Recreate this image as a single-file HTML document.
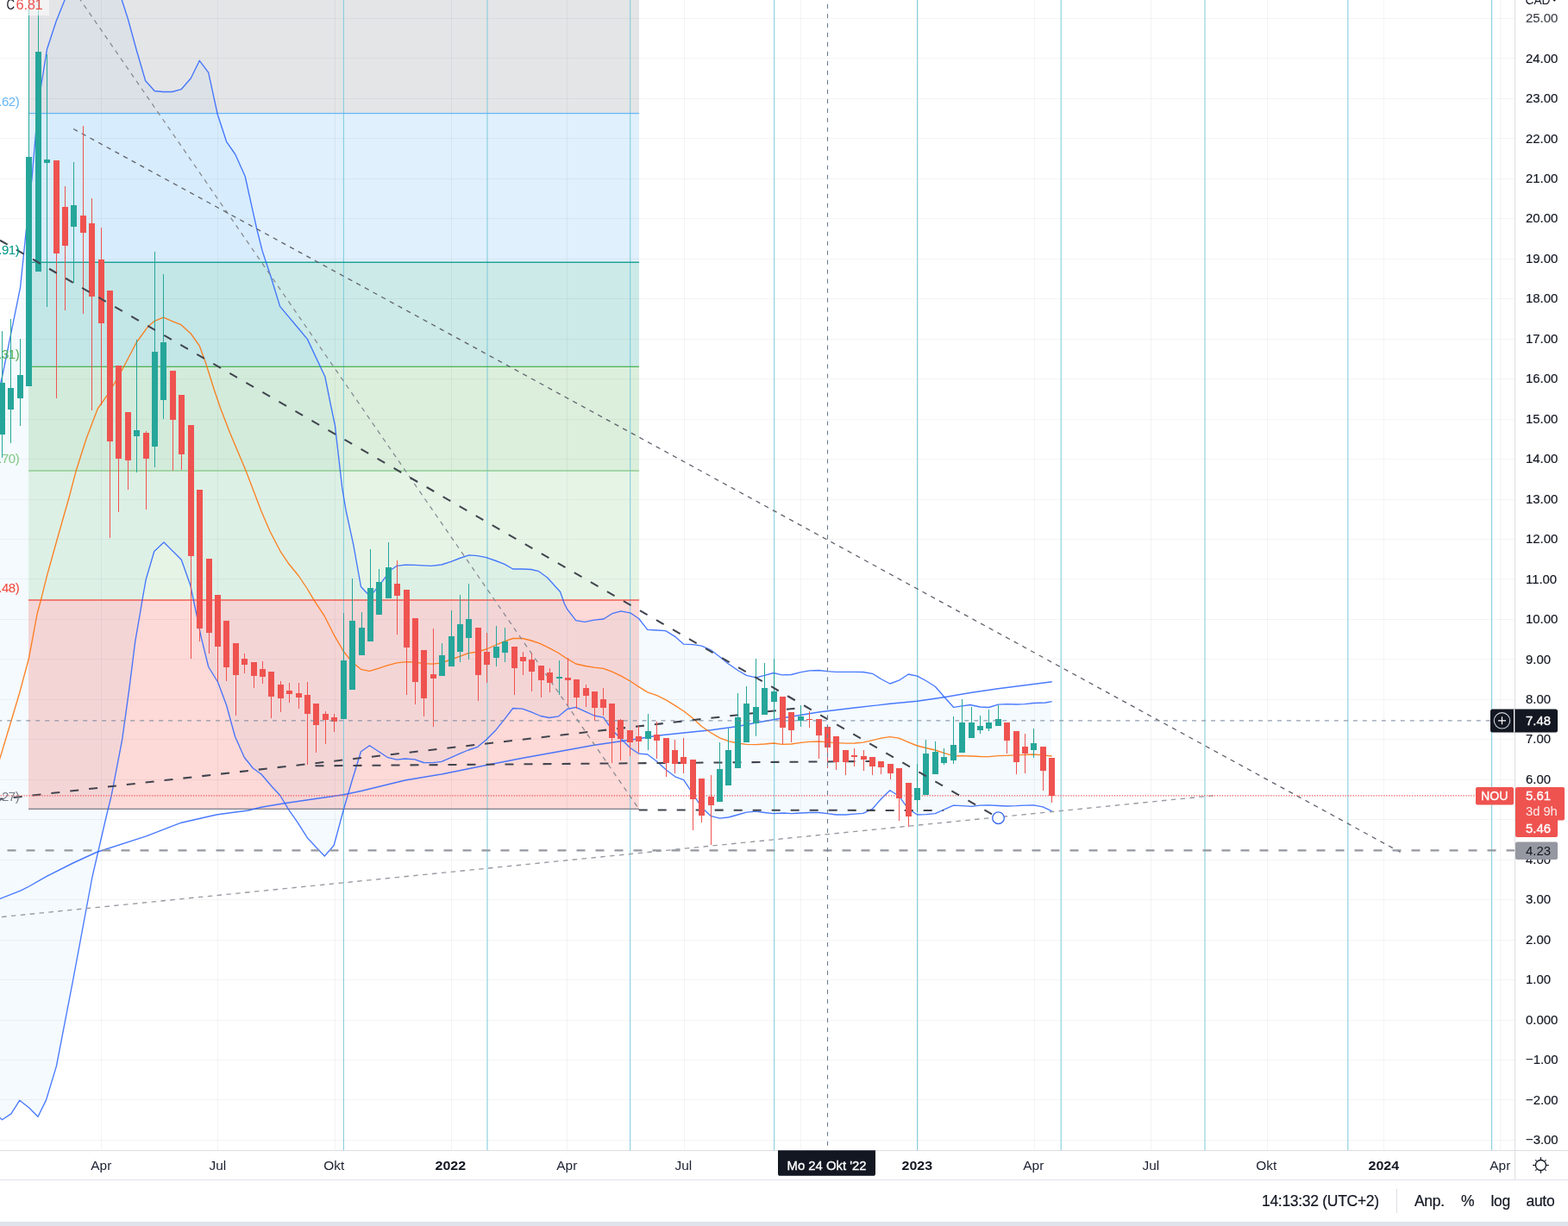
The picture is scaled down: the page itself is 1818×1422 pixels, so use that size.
<!DOCTYPE html>
<html lang="de">
<head>
<meta charset="utf-8">
<title>NOU Chart</title>
<style>
html,body{margin:0;padding:0;background:#fff;}
body{width:1818px;height:1422px;overflow:hidden;position:relative;font-family:"Liberation Sans", "DejaVu Sans", Arial, sans-serif;}
svg{position:absolute;left:0;top:0;display:block;}
text{font-family:"Liberation Sans", "DejaVu Sans", Arial, sans-serif;}
.ax{font-size:15px;fill:#131722;letter-spacing:-0.25px;}
.tm{font-size:15px;fill:#131722;text-anchor:middle;letter-spacing:-0.2px;}
.fb{font-size:15px;text-anchor:end;letter-spacing:-0.4px;}
.tb{font-size:17.5px;fill:#131722;letter-spacing:-0.3px;stroke:#131722;stroke-width:0.2px;}
.wb{fill:#fff;stroke:#fff;stroke-width:0.35px;paint-order:stroke;}
</style>
</head>
<body>
<svg width="1818" height="1422" viewBox="0 0 1818 1422">
<defs>
<clipPath id="cp"><rect x="0" y="0" width="1756" height="1334"/></clipPath>
</defs>
<rect x="0" y="0" width="1818" height="1422" fill="#ffffff"/>
<g clip-path="url(#cp)">

<polygon points="-8.0,480.0 2.5,437.0 12.5,387.8 23.5,333.7 30.0,270.3 33.5,238.0 37.0,206.7 44.5,119.0 54.5,57.0 65.0,25.0 75.0,0.0 85.0,-30.0 130.0,-30.0 141.3,0.0 148.3,21.7 158.3,58.3 168.7,93.7 179.2,105.5 189.2,106.5 199.5,106.5 210.0,103.7 221.3,90.8 231.3,70.3 241.7,84.2 252.2,132.5 262.6,164.3 272.8,179.0 284.2,204.5 297.5,264.5 304.1,290.9 314.0,320.7 324.6,355.4 345.5,380.2 356.4,393.4 376.9,437.0 383.5,470.0 388.4,493.1 396.7,565.9 401.3,593.0 409.7,631.3 418.5,680.5 426.3,688.8 433.0,687.2 443.0,674.7 453.0,661.3 460.2,656.3 469.7,655.2 481.0,655.3 499.7,656.3 512.0,655.0 523.0,651.3 533.0,647.5 543.8,643.8 553.8,644.7 563.8,646.7 575.0,650.5 585.0,654.3 594.7,660.0 606.0,660.0 616.0,660.5 624.8,662.7 634.7,670.0 649.6,686.5 654.3,700.0 657.7,706.7 667.7,719.7 678.0,721.3 688.8,719.2 699.7,718.0 709.7,711.7 719.8,708.8 730.7,710.8 740.7,717.5 750.7,730.3 761.7,731.0 771.8,731.7 782.7,738.3 792.7,747.2 803.5,747.7 813.5,749.2 824.5,754.2 834.5,761.7 844.5,770.0 855.5,777.5 865.5,783.3 876.5,785.8 886.5,783.3 896.8,780.5 906.8,782.8 917.3,782.5 928.5,779.7 938.5,777.8 949.5,777.5 959.5,778.7 969.5,779.3 980.7,779.3 990.7,779.3 1000.7,779.5 1011.5,781.3 1021.5,787.5 1031.8,793.0 1042.3,789.2 1053.2,782.0 1063.5,784.2 1073.5,789.5 1084.3,796.3 1094.3,807.8 1105.5,820.3 1115.5,818.8 1124.8,817.5 1136.5,820.0 1146.5,820.5 1157.3,817.2 1167.3,816.7 1178.2,817.0 1188.2,816.7 1198.5,815.5 1212.0,815.0 1218.8,813.7 1218.8,940.8 1209.0,935.8 1198.5,933.8 1188.2,934.2 1178.2,934.7 1167.3,935.0 1157.3,934.5 1146.5,933.8 1136.5,934.2 1126.5,935.3 1115.5,934.7 1105.5,934.2 1094.3,939.2 1084.3,943.7 1073.5,944.7 1063.5,945.0 1053.2,938.3 1042.3,923.3 1031.8,916.7 1021.5,926.7 1011.5,938.3 1000.7,943.3 990.7,944.2 980.7,945.0 969.5,945.0 959.5,943.7 949.5,942.5 938.5,942.5 928.5,943.0 917.3,943.7 909.0,943.0 896.8,943.7 886.5,942.5 876.5,941.2 865.5,942.2 855.5,945.0 844.5,948.0 834.5,949.2 824.5,946.7 813.5,936.5 803.5,920.8 792.7,904.7 782.7,900.8 772.7,893.3 761.7,883.3 750.7,875.0 740.7,874.2 730.7,867.5 719.8,856.7 709.7,846.7 699.7,832.2 688.8,830.0 678.8,825.3 667.7,820.3 657.7,822.5 647.7,830.8 636.8,832.5 626.8,830.5 616.0,825.8 606.0,822.2 594.7,821.5 585.0,834.2 575.0,846.7 563.8,858.0 553.8,866.3 543.0,870.0 533.0,874.2 523.0,878.7 512.0,883.3 502.0,884.7 491.0,884.5 481.0,880.8 469.7,880.0 460.2,881.2 449.7,878.7 439.2,871.7 428.5,864.7 418.5,871.7 408.3,905.0 398.3,939.2 387.2,980.5 376.3,993.0 366.3,982.5 356.3,971.7 344.7,953.3 334.7,939.2 324.7,922.5 314.7,911.7 303.0,898.0 293.3,891.0 283.3,878.5 272.5,854.3 262.5,817.7 252.5,791.0 241.7,773.5 233.3,739.3 227.5,711.0 220.8,679.0 210.3,649.3 190.0,629.0 178.8,639.5 169.2,672.3 165.0,695.7 162.5,711.0 156.7,744.3 150.0,797.7 141.7,857.7 129.2,922.7 123.0,948.0 106.8,1018.0 84.7,1136.6 65.4,1236.6 53.6,1275.6 44.0,1295.3 33.9,1285.0 22.7,1276.3 12.9,1291.9 2.5,1298.8 -8.0,1290.0" fill="rgb(33,150,243)" fill-opacity="0.05"/>
<rect x="33" y="-88" width="708" height="219.5" fill="#787b86" fill-opacity="0.2"/>
<rect x="33" y="131.5" width="708" height="172.7" fill="#64b5f6" fill-opacity="0.2"/>
<rect x="33" y="304.2" width="708" height="121.10000000000002" fill="#009688" fill-opacity="0.2"/>
<rect x="33" y="425.3" width="708" height="120.69999999999999" fill="#4caf50" fill-opacity="0.2"/>
<rect x="33" y="546.0" width="708" height="150.0" fill="#81c784" fill-opacity="0.2"/>
<rect x="33" y="696.0" width="708" height="242.29999999999995" fill="#f44336" fill-opacity="0.2"/>
<g fill="#2a2e39" fill-opacity="0.052" shape-rendering="crispEdges">
<rect x="0" y="1322" width="1756" height="1"/>
<rect x="0" y="1275" width="1756" height="1"/>
<rect x="0" y="1229" width="1756" height="1"/>
<rect x="0" y="1183" width="1756" height="1"/>
<rect x="0" y="1136" width="1756" height="1"/>
<rect x="0" y="1090" width="1756" height="1"/>
<rect x="0" y="1043" width="1756" height="1"/>
<rect x="0" y="997" width="1756" height="1"/>
<rect x="0" y="950" width="1756" height="1"/>
<rect x="0" y="904" width="1756" height="1"/>
<rect x="0" y="857" width="1756" height="1"/>
<rect x="0" y="811" width="1756" height="1"/>
<rect x="0" y="764" width="1756" height="1"/>
<rect x="0" y="718" width="1756" height="1"/>
<rect x="0" y="671" width="1756" height="1"/>
<rect x="0" y="625" width="1756" height="1"/>
<rect x="0" y="579" width="1756" height="1"/>
<rect x="0" y="532" width="1756" height="1"/>
<rect x="0" y="486" width="1756" height="1"/>
<rect x="0" y="439" width="1756" height="1"/>
<rect x="0" y="393" width="1756" height="1"/>
<rect x="0" y="346" width="1756" height="1"/>
<rect x="0" y="300" width="1756" height="1"/>
<rect x="0" y="253" width="1756" height="1"/>
<rect x="0" y="207" width="1756" height="1"/>
<rect x="0" y="160" width="1756" height="1"/>
<rect x="0" y="114" width="1756" height="1"/>
<rect x="0" y="67" width="1756" height="1"/>
<rect x="0" y="21" width="1756" height="1"/>
<rect x="117" y="0" width="1" height="1334"/>
<rect x="252" y="0" width="1" height="1334"/>
<rect x="388" y="0" width="1" height="1334"/>
<rect x="523" y="0" width="1" height="1334"/>
<rect x="657" y="0" width="1" height="1334"/>
<rect x="793" y="0" width="1" height="1334"/>
<rect x="928" y="0" width="1" height="1334"/>
<rect x="1064" y="0" width="1" height="1334"/>
<rect x="1199" y="0" width="1" height="1334"/>
<rect x="1334" y="0" width="1" height="1334"/>
<rect x="1469" y="0" width="1" height="1334"/>
<rect x="1604" y="0" width="1" height="1334"/>
<rect x="1739" y="0" width="1" height="1334"/>
</g>
<g stroke="#80ccdb" stroke-width="1.05">
<line x1="398.4" y1="0" x2="398.4" y2="1334"/>
<line x1="565.0" y1="0" x2="565.0" y2="1334"/>
<line x1="730.7" y1="0" x2="730.7" y2="1334"/>
<line x1="897.7" y1="0" x2="897.7" y2="1334"/>
<line x1="1063.6" y1="0" x2="1063.6" y2="1334"/>
<line x1="1230.2" y1="0" x2="1230.2" y2="1334"/>
<line x1="1397.0" y1="0" x2="1397.0" y2="1334"/>
<line x1="1562.8" y1="0" x2="1562.8" y2="1334"/>
<line x1="1729.6" y1="0" x2="1729.6" y2="1334"/>
</g>
<rect x="33" y="130.88" width="708" height="1.25" fill="#64b5f6"/>
<rect x="33" y="303.58" width="708" height="1.25" fill="#009688"/>
<rect x="33" y="424.68" width="708" height="1.25" fill="#4caf50"/>
<rect x="33" y="545.38" width="708" height="1.25" fill="#81c784"/>
<rect x="33" y="695.38" width="708" height="1.25" fill="#f44336"/>
<rect x="33" y="937.68" width="708" height="1.25" fill="#787b86"/>
<polyline points="-8.0,1045.0 0.0,1042.4 23.7,1033.2 33.9,1028.0 54.2,1016.3 84.7,1001.0 111.9,988.5 169.5,969.8 210.2,954.2 250.8,945.0 288.0,940.0 303.0,936.3 329.7,931.7 398.3,921.7 418.5,917.5 469.7,905.0 512.0,898.0 563.8,887.5 606.0,879.2 647.7,871.7 688.8,864.2 719.8,859.7 740.7,856.7 761.7,853.3 792.7,850.0 824.5,846.7 855.5,842.5 876.5,838.3 896.8,834.7 909.0,832.5 950.7,825.8 992.3,820.8 1031.8,816.3 1063.5,813.3 1094.3,808.7 1126.5,803.3 1157.3,798.7 1212.0,791.7 1219.7,790.8" fill="none" stroke="#2962ff" stroke-opacity="0.85" stroke-width="1.4" stroke-linejoin="round"/>
<polyline points="-8.0,480.0 2.5,437.0 12.5,387.8 23.5,333.7 30.0,270.3 33.5,238.0 37.0,206.7 44.5,119.0 54.5,57.0 65.0,25.0 75.0,0.0 85.0,-30.0 130.0,-30.0 141.3,0.0 148.3,21.7 158.3,58.3 168.7,93.7 179.2,105.5 189.2,106.5 199.5,106.5 210.0,103.7 221.3,90.8 231.3,70.3 241.7,84.2 252.2,132.5 262.6,164.3 272.8,179.0 284.2,204.5 297.5,264.5 304.1,290.9 314.0,320.7 324.6,355.4 345.5,380.2 356.4,393.4 376.9,437.0 383.5,470.0 388.4,493.1 396.7,565.9 401.3,593.0 409.7,631.3 418.5,680.5 426.3,688.8 433.0,687.2 443.0,674.7 453.0,661.3 460.2,656.3 469.7,655.2 481.0,655.3 499.7,656.3 512.0,655.0 523.0,651.3 533.0,647.5 543.8,643.8 553.8,644.7 563.8,646.7 575.0,650.5 585.0,654.3 594.7,660.0 606.0,660.0 616.0,660.5 624.8,662.7 634.7,670.0 649.6,686.5 654.3,700.0 657.7,706.7 667.7,719.7 678.0,721.3 688.8,719.2 699.7,718.0 709.7,711.7 719.8,708.8 730.7,710.8 740.7,717.5 750.7,730.3 761.7,731.0 771.8,731.7 782.7,738.3 792.7,747.2 803.5,747.7 813.5,749.2 824.5,754.2 834.5,761.7 844.5,770.0 855.5,777.5 865.5,783.3 876.5,785.8 886.5,783.3 896.8,780.5 906.8,782.8 917.3,782.5 928.5,779.7 938.5,777.8 949.5,777.5 959.5,778.7 969.5,779.3 980.7,779.3 990.7,779.3 1000.7,779.5 1011.5,781.3 1021.5,787.5 1031.8,793.0 1042.3,789.2 1053.2,782.0 1063.5,784.2 1073.5,789.5 1084.3,796.3 1094.3,807.8 1105.5,820.3 1115.5,818.8 1124.8,817.5 1136.5,820.0 1146.5,820.5 1157.3,817.2 1167.3,816.7 1178.2,817.0 1188.2,816.7 1198.5,815.5 1212.0,815.0 1219.7,813.7" fill="none" stroke="#2962ff" stroke-opacity="0.85" stroke-width="1.35" stroke-linejoin="round"/>
<polyline points="-8.0,1290.0 2.5,1298.8 12.9,1291.9 22.7,1276.3 33.9,1285.0 44.0,1295.3 53.6,1275.6 65.4,1236.6 84.7,1136.6 106.8,1018.0 123.0,948.0 129.2,922.7 141.7,857.7 150.0,797.7 156.7,744.3 162.5,711.0 165.0,695.7 169.2,672.3 178.8,639.5 190.0,629.0 210.3,649.3 220.8,679.0 227.5,711.0 233.3,739.3 241.7,773.5 252.5,791.0 262.5,817.7 272.5,854.3 283.3,878.5 293.3,891.0 303.0,898.0 314.7,911.7 324.7,922.5 334.7,939.2 344.7,953.3 356.3,971.7 366.3,982.5 376.3,993.0 387.2,980.5 398.3,939.2 408.3,905.0 418.5,871.7 428.5,864.7 439.2,871.7 449.7,878.7 460.2,881.2 469.7,880.0 481.0,880.8 491.0,884.5 502.0,884.7 512.0,883.3 523.0,878.7 533.0,874.2 543.0,870.0 553.8,866.3 563.8,858.0 575.0,846.7 585.0,834.2 594.7,821.5 606.0,822.2 616.0,825.8 626.8,830.5 636.8,832.5 647.7,830.8 657.7,822.5 667.7,820.3 678.8,825.3 688.8,830.0 699.7,832.2 709.7,846.7 719.8,856.7 730.7,867.5 740.7,874.2 750.7,875.0 761.7,883.3 772.7,893.3 782.7,900.8 792.7,904.7 803.5,920.8 813.5,936.5 824.5,946.7 834.5,949.2 844.5,948.0 855.5,945.0 865.5,942.2 876.5,941.2 886.5,942.5 896.8,943.7 909.0,943.0 917.3,943.7 928.5,943.0 938.5,942.5 949.5,942.5 959.5,943.7 969.5,945.0 980.7,945.0 990.7,944.2 1000.7,943.3 1011.5,938.3 1021.5,926.7 1031.8,916.7 1042.3,923.3 1053.2,938.3 1063.5,945.0 1073.5,944.7 1084.3,943.7 1094.3,939.2 1105.5,934.2 1115.5,934.7 1126.5,935.3 1136.5,934.2 1146.5,933.8 1157.3,934.5 1167.3,935.0 1178.2,934.7 1188.2,934.2 1198.5,933.8 1209.0,935.8 1219.7,940.8" fill="none" stroke="#2962ff" stroke-opacity="0.85" stroke-width="1.35" stroke-linejoin="round"/>
<polyline points="-8.0,905.0 0.0,879.3 12.5,837.7 22.5,804.3 33.3,764.3 43.3,711.0 47.5,695.7 55.0,665.7 66.7,624.0 80.0,577.3 88.3,545.7 100.0,509.0 113.3,474.0 124.2,458.7 133.3,443.7 141.7,428.7 158.3,397.0 171.7,378.7 179.2,372.3 189.5,368.2 200.3,372.8 210.0,376.7 221.3,387.0 231.3,401.2 238.3,420.3 248.3,452.0 255.8,474.0 266.7,502.3 285.0,545.7 303.0,593.0 313.0,616.3 324.7,638.8 334.7,653.8 346.3,668.0 356.3,683.0 364.7,697.2 376.3,714.7 387.2,736.3 398.3,755.5 408.3,768.0 418.5,776.3 428.5,778.3 439.2,775.2 449.7,771.7 460.2,768.8 471.0,767.7 481.0,768.0 491.0,769.7 502.0,770.2 512.0,768.8 523.0,765.0 533.0,761.3 543.0,757.7 553.8,756.0 563.8,753.0 575.0,748.0 585.0,743.8 594.7,740.5 606.0,740.5 616.0,743.0 626.0,746.3 636.8,751.7 647.7,757.5 657.7,764.2 667.7,770.0 678.8,772.5 688.8,774.2 699.7,775.3 709.7,779.2 719.8,783.8 730.7,790.0 740.7,796.7 750.7,802.8 761.7,806.7 772.7,812.2 782.7,818.3 792.7,824.7 803.5,833.3 813.5,842.5 824.5,850.0 834.5,855.8 844.5,859.7 855.5,862.0 865.5,863.3 876.5,863.7 886.5,863.0 896.8,862.0 906.8,863.3 917.3,863.0 928.5,861.3 938.5,860.3 949.5,860.0 959.5,860.8 969.5,861.7 980.7,862.2 990.7,862.0 1000.7,861.2 1011.5,858.7 1021.5,856.2 1031.8,854.7 1042.3,856.2 1053.2,860.8 1063.5,865.0 1073.5,867.5 1084.3,870.0 1094.3,873.3 1105.5,876.7 1115.5,876.7 1126.5,877.0 1136.5,877.5 1146.5,877.7 1157.3,876.7 1167.3,876.3 1178.2,875.8 1188.2,875.3 1198.5,875.0 1209.0,875.8 1219.7,877.0" fill="none" stroke="#ff6d00" stroke-opacity="0.85" stroke-width="1.35" stroke-linejoin="round"/>
<line x1="32.75" y1="-87.7" x2="740.55" y2="938" stroke="#858891" stroke-width="1.25" stroke-dasharray="5.35 5.354" stroke-dashoffset="-6.6"/>
<line x1="85.1" y1="149.5" x2="1623.6" y2="988.4" stroke="#60636d" stroke-width="1.3" stroke-dasharray="5.4 5.593"/>
<line x1="-8.75" y1="1064.6" x2="1406.7" y2="922.8" stroke="#989aa3" stroke-width="1.35" stroke-dasharray="5.5 5.4"/>
<line x1="8.5" y1="986.3" x2="1757" y2="986.3" stroke="#9598a1" stroke-width="2.2" stroke-dasharray="10 12"/>
<line x1="-6.2" y1="927.55" x2="921.5" y2="821.7" stroke="#41444e" stroke-width="2.05" stroke-dasharray="10 12"/>
<line x1="365.5" y1="888.3" x2="1009" y2="883.0" stroke="#41444e" stroke-width="2.05" stroke-dasharray="10 12"/>
<line x1="740.7" y1="939.5" x2="1094" y2="940" stroke="#41444e" stroke-width="2.05" stroke-dasharray="10 12"/>
<line x1="0.7" y1="922.8" x2="1757" y2="922.8" stroke="#ef5350" stroke-width="1.25" stroke-dasharray="1.3 1.675"/>
<g shape-rendering="crispEdges">
<rect x="2" y="384" width="1" height="147" fill="#26a69a"/>
<rect x="-1" y="444" width="7" height="60" fill="#26a69a"/>
<rect x="12" y="370" width="1" height="144" fill="#26a69a"/>
<rect x="9" y="450" width="7" height="25" fill="#26a69a"/>
<rect x="23" y="393" width="1" height="101" fill="#26a69a"/>
<rect x="20" y="435" width="7" height="27" fill="#26a69a"/>
<rect x="33" y="-5" width="1" height="453" fill="#26a69a"/>
<rect x="30" y="182" width="7" height="266" fill="#26a69a"/>
<rect x="44" y="-5" width="1" height="320" fill="#26a69a"/>
<rect x="41" y="60" width="7" height="255" fill="#26a69a"/>
<rect x="54" y="63" width="1" height="293" fill="#26a69a"/>
<rect x="51" y="185" width="7" height="4" fill="#26a69a"/>
<rect x="65" y="186" width="1" height="276" fill="#ef5350"/>
<rect x="62" y="186" width="7" height="108" fill="#ef5350"/>
<rect x="75" y="216" width="1" height="144" fill="#ef5350"/>
<rect x="72" y="240" width="7" height="45" fill="#ef5350"/>
<rect x="85" y="188" width="1" height="140" fill="#26a69a"/>
<rect x="82" y="238" width="7" height="25" fill="#26a69a"/>
<rect x="96" y="146" width="1" height="218" fill="#ef5350"/>
<rect x="93" y="250" width="7" height="20" fill="#ef5350"/>
<rect x="106" y="230" width="1" height="246" fill="#ef5350"/>
<rect x="103" y="259" width="7" height="85" fill="#ef5350"/>
<rect x="117" y="264" width="1" height="206" fill="#ef5350"/>
<rect x="114" y="301" width="7" height="74" fill="#ef5350"/>
<rect x="127" y="337" width="1" height="287" fill="#ef5350"/>
<rect x="124" y="337" width="7" height="175" fill="#ef5350"/>
<rect x="137" y="424" width="1" height="170" fill="#ef5350"/>
<rect x="134" y="424" width="7" height="108" fill="#ef5350"/>
<rect x="148" y="478" width="1" height="90" fill="#ef5350"/>
<rect x="145" y="478" width="7" height="56" fill="#ef5350"/>
<rect x="158" y="394" width="1" height="154" fill="#26a69a"/>
<rect x="155" y="499" width="7" height="7" fill="#26a69a"/>
<rect x="169" y="500" width="1" height="91" fill="#ef5350"/>
<rect x="166" y="502" width="7" height="30" fill="#ef5350"/>
<rect x="179" y="292" width="1" height="250" fill="#26a69a"/>
<rect x="176" y="408" width="7" height="110" fill="#26a69a"/>
<rect x="189" y="318" width="1" height="168" fill="#26a69a"/>
<rect x="186" y="397" width="7" height="67" fill="#26a69a"/>
<rect x="200" y="430" width="1" height="116" fill="#ef5350"/>
<rect x="197" y="430" width="7" height="57" fill="#ef5350"/>
<rect x="210" y="458" width="1" height="87" fill="#ef5350"/>
<rect x="207" y="458" width="7" height="69" fill="#ef5350"/>
<rect x="221" y="493" width="1" height="271" fill="#ef5350"/>
<rect x="218" y="493" width="7" height="152" fill="#ef5350"/>
<rect x="231" y="568" width="1" height="176" fill="#ef5350"/>
<rect x="228" y="568" width="7" height="161" fill="#ef5350"/>
<rect x="242" y="648" width="1" height="110" fill="#ef5350"/>
<rect x="239" y="648" width="7" height="86" fill="#ef5350"/>
<rect x="252" y="690" width="1" height="100" fill="#ef5350"/>
<rect x="249" y="690" width="7" height="60" fill="#ef5350"/>
<rect x="262" y="720" width="1" height="70" fill="#ef5350"/>
<rect x="259" y="720" width="7" height="54" fill="#ef5350"/>
<rect x="273" y="746" width="1" height="84" fill="#ef5350"/>
<rect x="270" y="746" width="7" height="37" fill="#ef5350"/>
<rect x="283" y="758" width="1" height="23" fill="#ef5350"/>
<rect x="280" y="764" width="7" height="7" fill="#ef5350"/>
<rect x="294" y="768" width="1" height="30" fill="#ef5350"/>
<rect x="291" y="768" width="7" height="16" fill="#ef5350"/>
<rect x="304" y="767" width="1" height="26" fill="#ef5350"/>
<rect x="301" y="776" width="7" height="9" fill="#ef5350"/>
<rect x="314" y="779" width="1" height="54" fill="#ef5350"/>
<rect x="311" y="779" width="7" height="29" fill="#ef5350"/>
<rect x="325" y="790" width="1" height="36" fill="#ef5350"/>
<rect x="322" y="794" width="7" height="16" fill="#ef5350"/>
<rect x="335" y="792" width="1" height="23" fill="#ef5350"/>
<rect x="332" y="801" width="7" height="4" fill="#ef5350"/>
<rect x="346" y="792" width="1" height="30" fill="#ef5350"/>
<rect x="343" y="804" width="7" height="5" fill="#ef5350"/>
<rect x="356" y="791" width="1" height="96" fill="#ef5350"/>
<rect x="353" y="806" width="7" height="22" fill="#ef5350"/>
<rect x="366" y="816" width="1" height="57" fill="#ef5350"/>
<rect x="363" y="816" width="7" height="25" fill="#ef5350"/>
<rect x="377" y="825" width="1" height="38" fill="#ef5350"/>
<rect x="374" y="828" width="7" height="7" fill="#ef5350"/>
<rect x="387" y="828" width="1" height="21" fill="#ef5350"/>
<rect x="384" y="832" width="7" height="5" fill="#ef5350"/>
<rect x="398" y="711" width="1" height="123" fill="#26a69a"/>
<rect x="395" y="766" width="7" height="68" fill="#26a69a"/>
<rect x="408" y="671" width="1" height="129" fill="#26a69a"/>
<rect x="405" y="720" width="7" height="80" fill="#26a69a"/>
<rect x="419" y="710" width="1" height="50" fill="#26a69a"/>
<rect x="416" y="728" width="7" height="32" fill="#26a69a"/>
<rect x="429" y="637" width="1" height="107" fill="#26a69a"/>
<rect x="426" y="682" width="7" height="62" fill="#26a69a"/>
<rect x="439" y="660" width="1" height="53" fill="#26a69a"/>
<rect x="436" y="675" width="7" height="38" fill="#26a69a"/>
<rect x="450" y="629" width="1" height="65" fill="#26a69a"/>
<rect x="447" y="658" width="7" height="36" fill="#26a69a"/>
<rect x="460" y="650" width="1" height="86" fill="#ef5350"/>
<rect x="457" y="677" width="7" height="14" fill="#ef5350"/>
<rect x="471" y="684" width="1" height="122" fill="#ef5350"/>
<rect x="468" y="684" width="7" height="67" fill="#ef5350"/>
<rect x="481" y="717" width="1" height="100" fill="#ef5350"/>
<rect x="478" y="717" width="7" height="74" fill="#ef5350"/>
<rect x="491" y="754" width="1" height="77" fill="#ef5350"/>
<rect x="488" y="754" width="7" height="56" fill="#ef5350"/>
<rect x="502" y="729" width="1" height="114" fill="#ef5350"/>
<rect x="499" y="782" width="7" height="5" fill="#ef5350"/>
<rect x="512" y="746" width="1" height="38" fill="#26a69a"/>
<rect x="509" y="760" width="7" height="24" fill="#26a69a"/>
<rect x="523" y="708" width="1" height="65" fill="#26a69a"/>
<rect x="520" y="738" width="7" height="35" fill="#26a69a"/>
<rect x="533" y="690" width="1" height="78" fill="#26a69a"/>
<rect x="530" y="724" width="7" height="32" fill="#26a69a"/>
<rect x="543" y="677" width="1" height="88" fill="#26a69a"/>
<rect x="540" y="718" width="7" height="22" fill="#26a69a"/>
<rect x="554" y="728" width="1" height="85" fill="#ef5350"/>
<rect x="551" y="728" width="7" height="55" fill="#ef5350"/>
<rect x="564" y="734" width="1" height="58" fill="#ef5350"/>
<rect x="561" y="756" width="7" height="15" fill="#ef5350"/>
<rect x="575" y="726" width="1" height="47" fill="#26a69a"/>
<rect x="572" y="750" width="7" height="13" fill="#26a69a"/>
<rect x="585" y="728" width="1" height="40" fill="#26a69a"/>
<rect x="582" y="744" width="7" height="13" fill="#26a69a"/>
<rect x="596" y="750" width="1" height="56" fill="#ef5350"/>
<rect x="593" y="750" width="7" height="25" fill="#ef5350"/>
<rect x="606" y="756" width="1" height="27" fill="#ef5350"/>
<rect x="603" y="762" width="7" height="5" fill="#ef5350"/>
<rect x="616" y="758" width="1" height="44" fill="#ef5350"/>
<rect x="613" y="765" width="7" height="14" fill="#ef5350"/>
<rect x="627" y="772" width="1" height="37" fill="#ef5350"/>
<rect x="624" y="772" width="7" height="17" fill="#ef5350"/>
<rect x="637" y="775" width="1" height="28" fill="#ef5350"/>
<rect x="634" y="780" width="7" height="12" fill="#ef5350"/>
<rect x="648" y="766" width="1" height="40" fill="#26a69a"/>
<rect x="645" y="785" width="7" height="2" fill="#26a69a"/>
<rect x="658" y="763" width="1" height="55" fill="#ef5350"/>
<rect x="655" y="786" width="7" height="3" fill="#ef5350"/>
<rect x="668" y="788" width="1" height="34" fill="#ef5350"/>
<rect x="665" y="788" width="7" height="21" fill="#ef5350"/>
<rect x="679" y="794" width="1" height="26" fill="#ef5350"/>
<rect x="676" y="798" width="7" height="9" fill="#ef5350"/>
<rect x="689" y="802" width="1" height="34" fill="#ef5350"/>
<rect x="686" y="802" width="7" height="19" fill="#ef5350"/>
<rect x="699" y="798" width="1" height="32" fill="#ef5350"/>
<rect x="696" y="811" width="7" height="10" fill="#ef5350"/>
<rect x="709" y="816" width="1" height="69" fill="#ef5350"/>
<rect x="706" y="816" width="7" height="40" fill="#ef5350"/>
<rect x="719" y="834" width="1" height="48" fill="#ef5350"/>
<rect x="716" y="835" width="7" height="22" fill="#ef5350"/>
<rect x="730" y="847" width="1" height="30" fill="#ef5350"/>
<rect x="727" y="847" width="7" height="14" fill="#ef5350"/>
<rect x="740" y="842" width="1" height="31" fill="#ef5350"/>
<rect x="737" y="854" width="7" height="6" fill="#ef5350"/>
<rect x="751" y="828" width="1" height="42" fill="#26a69a"/>
<rect x="748" y="848" width="7" height="9" fill="#26a69a"/>
<rect x="761" y="837" width="1" height="43" fill="#ef5350"/>
<rect x="758" y="852" width="7" height="7" fill="#ef5350"/>
<rect x="772" y="856" width="1" height="45" fill="#ef5350"/>
<rect x="769" y="856" width="7" height="29" fill="#ef5350"/>
<rect x="782" y="858" width="1" height="39" fill="#ef5350"/>
<rect x="779" y="870" width="7" height="16" fill="#ef5350"/>
<rect x="792" y="856" width="1" height="41" fill="#ef5350"/>
<rect x="789" y="878" width="7" height="8" fill="#ef5350"/>
<rect x="803" y="881" width="1" height="82" fill="#ef5350"/>
<rect x="800" y="881" width="7" height="46" fill="#ef5350"/>
<rect x="813" y="903" width="1" height="51" fill="#ef5350"/>
<rect x="810" y="903" width="7" height="43" fill="#ef5350"/>
<rect x="824" y="899" width="1" height="81" fill="#ef5350"/>
<rect x="821" y="924" width="7" height="10" fill="#ef5350"/>
<rect x="834" y="861" width="1" height="69" fill="#26a69a"/>
<rect x="831" y="892" width="7" height="38" fill="#26a69a"/>
<rect x="844" y="845" width="1" height="66" fill="#26a69a"/>
<rect x="841" y="870" width="7" height="41" fill="#26a69a"/>
<rect x="855" y="804" width="1" height="87" fill="#26a69a"/>
<rect x="852" y="832" width="7" height="59" fill="#26a69a"/>
<rect x="865" y="796" width="1" height="65" fill="#26a69a"/>
<rect x="862" y="816" width="7" height="45" fill="#26a69a"/>
<rect x="876" y="764" width="1" height="90" fill="#26a69a"/>
<rect x="873" y="820" width="7" height="19" fill="#26a69a"/>
<rect x="886" y="769" width="1" height="60" fill="#26a69a"/>
<rect x="883" y="798" width="7" height="31" fill="#26a69a"/>
<rect x="897" y="764" width="1" height="71" fill="#26a69a"/>
<rect x="894" y="802" width="7" height="12" fill="#26a69a"/>
<rect x="907" y="808" width="1" height="55" fill="#ef5350"/>
<rect x="904" y="808" width="7" height="36" fill="#ef5350"/>
<rect x="917" y="826" width="1" height="35" fill="#ef5350"/>
<rect x="914" y="826" width="7" height="21" fill="#ef5350"/>
<rect x="928" y="818" width="1" height="25" fill="#26a69a"/>
<rect x="925" y="831" width="7" height="5" fill="#26a69a"/>
<rect x="938" y="825" width="1" height="19" fill="#ef5350"/>
<rect x="935" y="834" width="7" height="1" fill="#ef5350"/>
<rect x="949" y="834" width="1" height="46" fill="#ef5350"/>
<rect x="946" y="834" width="7" height="19" fill="#ef5350"/>
<rect x="959" y="843" width="1" height="48" fill="#ef5350"/>
<rect x="956" y="843" width="7" height="24" fill="#ef5350"/>
<rect x="969" y="854" width="1" height="39" fill="#ef5350"/>
<rect x="966" y="854" width="7" height="30" fill="#ef5350"/>
<rect x="980" y="870" width="1" height="29" fill="#ef5350"/>
<rect x="977" y="870" width="7" height="14" fill="#ef5350"/>
<rect x="990" y="868" width="1" height="21" fill="#ef5350"/>
<rect x="987" y="876" width="7" height="2" fill="#ef5350"/>
<rect x="1001" y="870" width="1" height="24" fill="#ef5350"/>
<rect x="998" y="877" width="7" height="4" fill="#ef5350"/>
<rect x="1011" y="878" width="1" height="21" fill="#ef5350"/>
<rect x="1008" y="878" width="7" height="11" fill="#ef5350"/>
<rect x="1021" y="883" width="1" height="15" fill="#ef5350"/>
<rect x="1018" y="883" width="7" height="7" fill="#ef5350"/>
<rect x="1032" y="886" width="1" height="18" fill="#ef5350"/>
<rect x="1029" y="886" width="7" height="11" fill="#ef5350"/>
<rect x="1042" y="891" width="1" height="61" fill="#ef5350"/>
<rect x="1039" y="891" width="7" height="35" fill="#ef5350"/>
<rect x="1053" y="908" width="1" height="51" fill="#ef5350"/>
<rect x="1050" y="908" width="7" height="39" fill="#ef5350"/>
<rect x="1063" y="886" width="1" height="56" fill="#26a69a"/>
<rect x="1060" y="914" width="7" height="14" fill="#26a69a"/>
<rect x="1073" y="858" width="1" height="64" fill="#26a69a"/>
<rect x="1070" y="874" width="7" height="48" fill="#26a69a"/>
<rect x="1084" y="860" width="1" height="38" fill="#26a69a"/>
<rect x="1081" y="872" width="7" height="26" fill="#26a69a"/>
<rect x="1094" y="868" width="1" height="19" fill="#26a69a"/>
<rect x="1091" y="878" width="7" height="7" fill="#26a69a"/>
<rect x="1105" y="831" width="1" height="55" fill="#26a69a"/>
<rect x="1102" y="864" width="7" height="18" fill="#26a69a"/>
<rect x="1115" y="811" width="1" height="62" fill="#26a69a"/>
<rect x="1112" y="838" width="7" height="35" fill="#26a69a"/>
<rect x="1126" y="820" width="1" height="36" fill="#26a69a"/>
<rect x="1123" y="838" width="7" height="18" fill="#26a69a"/>
<rect x="1136" y="830" width="1" height="21" fill="#26a69a"/>
<rect x="1133" y="842" width="7" height="5" fill="#26a69a"/>
<rect x="1146" y="823" width="1" height="25" fill="#26a69a"/>
<rect x="1143" y="838" width="7" height="7" fill="#26a69a"/>
<rect x="1157" y="818" width="1" height="24" fill="#26a69a"/>
<rect x="1154" y="834" width="7" height="8" fill="#26a69a"/>
<rect x="1167" y="838" width="1" height="36" fill="#ef5350"/>
<rect x="1164" y="838" width="7" height="21" fill="#ef5350"/>
<rect x="1178" y="848" width="1" height="50" fill="#ef5350"/>
<rect x="1175" y="848" width="7" height="36" fill="#ef5350"/>
<rect x="1188" y="851" width="1" height="46" fill="#ef5350"/>
<rect x="1185" y="866" width="7" height="8" fill="#ef5350"/>
<rect x="1198" y="845" width="1" height="34" fill="#26a69a"/>
<rect x="1195" y="862" width="7" height="8" fill="#26a69a"/>
<rect x="1209" y="866" width="1" height="51" fill="#ef5350"/>
<rect x="1206" y="866" width="7" height="28" fill="#ef5350"/>
<rect x="1219" y="879" width="1" height="52" fill="#ef5350"/>
<rect x="1216" y="879" width="7" height="44" fill="#ef5350"/>
</g>
<line x1="-19.0" y1="267.7" x2="1157.5" y2="948.7" stroke="#41444e" stroke-width="2.05" stroke-dasharray="10 11.98"/>
<circle cx="1157.5" cy="948.7" r="6.8" fill="#ffffff" stroke="#3f6df0" stroke-width="1.4"/>
<line x1="-2.7" y1="835.9" x2="1757" y2="835.9" stroke="#76849a" stroke-width="1" stroke-dasharray="5 5.99"/>
<line x1="959.5" y1="-6.1" x2="959.5" y2="1334" stroke="#6c7b8e" stroke-width="1.1" stroke-dasharray="5.1 5.89"/>
<text class="fb" x="22.4" y="122.8" fill="#64b5f6">0.786(22.62)</text>
<text class="fb" x="22.4" y="295.3" fill="#009688">0.618(18.91)</text>
<text class="fb" x="22.4" y="416.3" fill="#4caf50">0.5(16.31)</text>
<text class="fb" x="22.4" y="537.3" fill="#81c784">0.382(13.70)</text>
<text class="fb" x="22.4" y="687.3" fill="#f44336">0.236(10.48)</text>
<text class="fb" x="22.4" y="929.3" fill="#787b86">0(5.27)</text>
<rect x="0" y="0" width="57" height="18" fill="#ffffff" fill-opacity="0.55"/>
<text transform="translate(7.6 10.8) scale(0.8 1)" font-size="16.5" fill="#131722">C</text>
<text x="18.5" y="10.8" font-size="16.5" fill="#ef5350" letter-spacing="-0.3">6.81</text>
</g>
<g fill="#dddee2" shape-rendering="crispEdges">
<rect x="1756" y="0" width="1" height="1369"/>
<rect x="0" y="1334" width="1818" height="1"/>
<rect x="0" y="1368" width="1818" height="1" fill="#e0e3eb"/>
<rect x="0" y="1417" width="1818" height="5" fill="#e0e3eb"/>
<rect x="1619" y="1379" width="1" height="28"/>
</g>
<text transform="translate(1768.6 4.9) scale(0.9 1)" font-size="15.2" text-anchor="start" fill="#131722">CAD</text>
<path d="M1798.9 -2.4 l3.3 3.3 l3.3 -3.3" fill="none" stroke="#131722" stroke-width="1.3"/>
<text transform="translate(1769 1327.0) scale(0.965 1)" font-size="15.4" text-anchor="start" fill="#131722" stroke="#131722" stroke-width="0.18">−3.00</text>
<text transform="translate(1769 1280.5) scale(0.965 1)" font-size="15.4" text-anchor="start" fill="#131722" stroke="#131722" stroke-width="0.18">−2.00</text>
<text transform="translate(1769 1234.1) scale(0.965 1)" font-size="15.4" text-anchor="start" fill="#131722" stroke="#131722" stroke-width="0.18">−1.00</text>
<text transform="translate(1769 1187.6) scale(0.965 1)" font-size="15.4" text-anchor="start" fill="#131722" stroke="#131722" stroke-width="0.18">0.000</text>
<text transform="translate(1769 1141.1) scale(0.965 1)" font-size="15.4" text-anchor="start" fill="#131722" stroke="#131722" stroke-width="0.18">1.00</text>
<text transform="translate(1769 1094.7) scale(0.965 1)" font-size="15.4" text-anchor="start" fill="#131722" stroke="#131722" stroke-width="0.18">2.00</text>
<text transform="translate(1769 1048.2) scale(0.965 1)" font-size="15.4" text-anchor="start" fill="#131722" stroke="#131722" stroke-width="0.18">3.00</text>
<text transform="translate(1769 1001.8) scale(0.965 1)" font-size="15.4" text-anchor="start" fill="#131722" stroke="#131722" stroke-width="0.18">4.00</text>
<text transform="translate(1769 908.8) scale(0.965 1)" font-size="15.4" text-anchor="start" fill="#131722" stroke="#131722" stroke-width="0.18">6.00</text>
<text transform="translate(1769 862.4) scale(0.965 1)" font-size="15.4" text-anchor="start" fill="#131722" stroke="#131722" stroke-width="0.18">7.00</text>
<text transform="translate(1769 815.9) scale(0.965 1)" font-size="15.4" text-anchor="start" fill="#131722" stroke="#131722" stroke-width="0.18">8.00</text>
<text transform="translate(1769 769.5) scale(0.965 1)" font-size="15.4" text-anchor="start" fill="#131722" stroke="#131722" stroke-width="0.18">9.00</text>
<text transform="translate(1769 723.0) scale(0.965 1)" font-size="15.4" text-anchor="start" fill="#131722" stroke="#131722" stroke-width="0.18">10.00</text>
<text transform="translate(1769 676.5) scale(0.965 1)" font-size="15.4" text-anchor="start" fill="#131722" stroke="#131722" stroke-width="0.18">11.00</text>
<text transform="translate(1769 630.1) scale(0.965 1)" font-size="15.4" text-anchor="start" fill="#131722" stroke="#131722" stroke-width="0.18">12.00</text>
<text transform="translate(1769 583.6) scale(0.965 1)" font-size="15.4" text-anchor="start" fill="#131722" stroke="#131722" stroke-width="0.18">13.00</text>
<text transform="translate(1769 537.2) scale(0.965 1)" font-size="15.4" text-anchor="start" fill="#131722" stroke="#131722" stroke-width="0.18">14.00</text>
<text transform="translate(1769 490.7) scale(0.965 1)" font-size="15.4" text-anchor="start" fill="#131722" stroke="#131722" stroke-width="0.18">15.00</text>
<text transform="translate(1769 444.2) scale(0.965 1)" font-size="15.4" text-anchor="start" fill="#131722" stroke="#131722" stroke-width="0.18">16.00</text>
<text transform="translate(1769 397.8) scale(0.965 1)" font-size="15.4" text-anchor="start" fill="#131722" stroke="#131722" stroke-width="0.18">17.00</text>
<text transform="translate(1769 351.3) scale(0.965 1)" font-size="15.4" text-anchor="start" fill="#131722" stroke="#131722" stroke-width="0.18">18.00</text>
<text transform="translate(1769 304.9) scale(0.965 1)" font-size="15.4" text-anchor="start" fill="#131722" stroke="#131722" stroke-width="0.18">19.00</text>
<text transform="translate(1769 258.4) scale(0.965 1)" font-size="15.4" text-anchor="start" fill="#131722" stroke="#131722" stroke-width="0.18">20.00</text>
<text transform="translate(1769 211.9) scale(0.965 1)" font-size="15.4" text-anchor="start" fill="#131722" stroke="#131722" stroke-width="0.18">21.00</text>
<text transform="translate(1769 165.5) scale(0.965 1)" font-size="15.4" text-anchor="start" fill="#131722" stroke="#131722" stroke-width="0.18">22.00</text>
<text transform="translate(1769 119.0) scale(0.965 1)" font-size="15.4" text-anchor="start" fill="#131722" stroke="#131722" stroke-width="0.18">23.00</text>
<text transform="translate(1769 72.6) scale(0.965 1)" font-size="15.4" text-anchor="start" fill="#131722" stroke="#131722" stroke-width="0.18">24.00</text>
<text transform="translate(1769 25.6) scale(0.965 1)" font-size="15.4" text-anchor="start" fill="#131722" fill-opacity="0.78" stroke="#131722" stroke-width="0.18">25.00</text>
<rect x="1728" y="822.5" width="78" height="27" rx="2.5" fill="#131722"/>
<rect x="1755" y="822.5" width="1.3" height="27" fill="#ffffff"/>
<circle cx="1741.5" cy="835.8" r="9.2" fill="none" stroke="#d1d4dc" stroke-width="1.1"/>
<path d="M1737 835.8h9M1741.5 831.3v9" stroke="#ffffff" stroke-width="1.2" fill="none"/>
<text transform="translate(1769 840.6) scale(0.965 1)" font-size="15.4" text-anchor="start" fill="#ffffff" stroke="#ffffff" stroke-width="0.35" paint-order="stroke">7.48</text>
<rect x="1711" y="913" width="44" height="20.5" rx="2" fill="#ef5350"/>
<text transform="translate(1732.8 927.6) scale(0.92 1)" font-size="15.4" text-anchor="middle" fill="#ffffff" stroke="#ffffff" stroke-width="0.35" paint-order="stroke">NOU</text>
<rect x="1757" y="913" width="57" height="38.5" rx="2" fill="#ef5350"/>
<rect x="1757" y="945" width="49" height="26" rx="2" fill="#ef5350"/>
<text transform="translate(1769 927.6) scale(0.965 1)" font-size="15.4" text-anchor="start" fill="#ffffff" stroke="#ffffff" stroke-width="0.35" paint-order="stroke">5.61</text>
<text transform="translate(1769 945.8) scale(0.955 1)" font-size="15.4" text-anchor="start" fill="#ffffff" fill-opacity="0.88">3d 9h</text>
<text transform="translate(1769 965.9) scale(0.965 1)" font-size="15.4" text-anchor="start" fill="#ffffff" stroke="#ffffff" stroke-width="0.35" paint-order="stroke">5.46</text>
<rect x="1757" y="976.5" width="49" height="20.5" rx="2" fill="#9598a1"/>
<text transform="translate(1769 991.5) scale(0.965 1)" font-size="15.4" text-anchor="start" fill="#131722">4.23</text>
<text transform="translate(117.3 1356.5) scale(1.0 1)" font-size="15.4" text-anchor="middle" fill="#1c2030">Apr</text>
<text transform="translate(252.3 1356.5) scale(1.0 1)" font-size="15.4" text-anchor="middle" fill="#1c2030">Jul</text>
<text transform="translate(387.3 1356.5) scale(1.0 1)" font-size="15.4" text-anchor="middle" fill="#1c2030">Okt</text>
<text transform="translate(522.3 1356.5) scale(1.04 1)" font-size="15.4" text-anchor="middle" fill="#131722" font-weight="bold">2022</text>
<text transform="translate(657.3 1356.5) scale(1.0 1)" font-size="15.4" text-anchor="middle" fill="#1c2030">Apr</text>
<text transform="translate(792.3 1356.5) scale(1.0 1)" font-size="15.4" text-anchor="middle" fill="#1c2030">Jul</text>
<text transform="translate(1063.3 1356.5) scale(1.04 1)" font-size="15.4" text-anchor="middle" fill="#131722" font-weight="bold">2023</text>
<text transform="translate(1198.3 1356.5) scale(1.0 1)" font-size="15.4" text-anchor="middle" fill="#1c2030">Apr</text>
<text transform="translate(1334.3 1356.5) scale(1.0 1)" font-size="15.4" text-anchor="middle" fill="#1c2030">Jul</text>
<text transform="translate(1468.3 1356.5) scale(1.0 1)" font-size="15.4" text-anchor="middle" fill="#1c2030">Okt</text>
<text transform="translate(1604.3 1356.5) scale(1.04 1)" font-size="15.4" text-anchor="middle" fill="#131722" font-weight="bold">2024</text>
<text transform="translate(1739.3 1356.5) scale(1.0 1)" font-size="15.4" text-anchor="middle" fill="#1c2030">Apr</text>
<path d="M902 1334.2h113v27a2.6 2.6 0 0 1 -2.6 2.6h-107.8a2.6 2.6 0 0 1 -2.6 -2.6z" fill="#131722"/>
<text transform="translate(958.6 1356.5) scale(0.965 1)" font-size="15.4" text-anchor="middle" fill="#ffffff" stroke="#ffffff" stroke-width="0.35" paint-order="stroke">Mo 24 Okt '22</text>
<g stroke="#131722" stroke-width="1.25" fill="none">
<circle cx="1786.45" cy="1351.5" r="6.0" stroke-width="1.3"/>
<line x1="1792.75" y1="1351.50" x2="1795.80" y2="1351.50"/>
<line x1="1791.33" y1="1356.38" x2="1792.60" y2="1357.65"/>
<line x1="1786.45" y1="1357.80" x2="1786.45" y2="1360.85"/>
<line x1="1781.57" y1="1356.38" x2="1780.30" y2="1357.65"/>
<line x1="1780.15" y1="1351.50" x2="1777.10" y2="1351.50"/>
<line x1="1781.57" y1="1346.62" x2="1780.30" y2="1345.35"/>
<line x1="1786.45" y1="1345.20" x2="1786.45" y2="1342.15"/>
<line x1="1791.33" y1="1346.62" x2="1792.60" y2="1345.35"/>
</g>
<text class="tb" x="1463" y="1399.3">14:13:32 (UTC+2)</text>
<text class="tb" x="1640" y="1399.3">Anp.</text>
<text class="tb" x="1694" y="1399.3">%</text>
<text class="tb" x="1728.5" y="1399.3">log</text>
<text class="tb" x="1769.5" y="1399.3">auto</text>
</svg>
</body>
</html>
